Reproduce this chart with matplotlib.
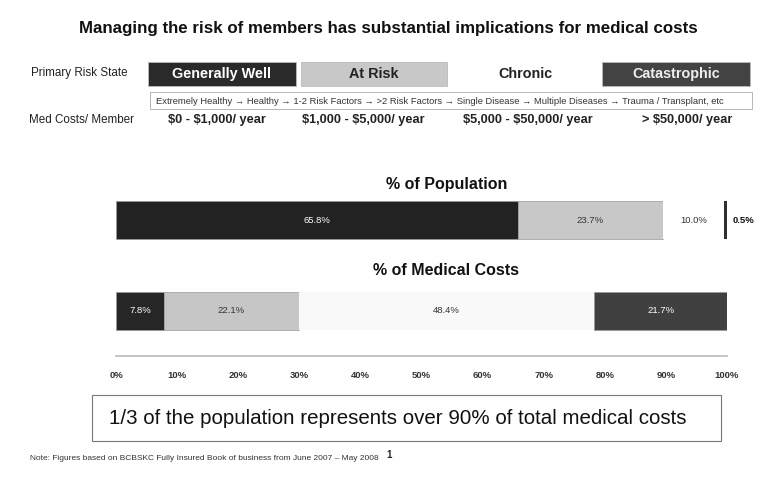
import matplotlib
matplotlib.use('Agg')
from matplotlib import pyplot as plt
from matplotlib.patches import Rectangle

plt.rcParams['font.family'] = ['Liberation Sans', 'DejaVu Sans']
plt.rcParams['text.parse_math'] = False

#region `data`
risk_states = ['Generally Well', 'At Risk', 'Chronic', 'Catastrophic']
med_costs = ['$0 - $1,000/ year', '$1,000 - $5,000/ year', '$5,000 - $50,000/ year', '> $50,000/ year']
progression = ('Extremely Healthy \u2192 Healthy \u2192 1-2 Risk Factors \u2192 >2 Risk Factors \u2192 '
               'Single Disease \u2192 Multiple Diseases \u2192 Trauma / Transplant, etc')
population = [65.8, 23.7, 10.0, 0.5]
medical_costs = [7.8, 22.1, 48.4, 21.7]
row_titles = ['% of Population', '% of Medical Costs']
ticks = list(range(0, 101, 10))
#endregion

#region `style`
seg_colors = ['#262626', '#c6c6c6', '#f9f9f9', '#404040']
text_colors = ['white', '#222222', '#222222', '#eeeeee']
header_colors = ['#2a2a2a', '#c8c8c8', 'white', '#434343']
header_x = [148, 301, 450, 602]
header_w = [148, 146, 150, 148]
cost_x = [217, 363, 528, 687]
#endregion

fig = plt.figure(figsize=(7.69, 4.86), dpi=100)
bg = fig.add_axes([0, 0, 1, 1])
bg.set_xlim(0, 769)
bg.set_ylim(486, 0)
bg.axis('off')

bg.text(388, 29, 'Managing the risk of members has substantial implications for medical costs',
        ha='center', va='center', fontsize=12.2, fontweight='bold', color='#111111')

# header rows
bg.text(128, 73, 'Primary Risk State', ha='right', va='center', fontsize=8.4, color='#222222')
bg.text(134, 120, 'Med Costs/ Member', ha='right', va='center', fontsize=8.4, color='#222222')
for i, name in enumerate(risk_states):
    bg.add_patch(Rectangle((header_x[i], 62), header_w[i], 24, facecolor=header_colors[i],
                           edgecolor='#bbbbbb' if i != 2 else 'none', lw=0.6))
    bg.text(header_x[i] + header_w[i] / 2, 74, name, ha='center', va='center',
            fontsize=10.4, fontweight='bold', color=text_colors[i])
    bg.text(cost_x[i], 120, med_costs[i], ha='center', va='center',
            fontsize=9.2, fontweight='bold', color='#222222')

bg.add_patch(Rectangle((150, 92), 602, 17, facecolor='white', edgecolor='#aaaaaa', lw=0.6))
bg.text(156, 101, progression, ha='left', va='center', fontsize=6.75, color='#333333')

# section titles
bg.text(447, 184, row_titles[0], ha='center', va='center', fontsize=11.5, fontweight='bold', color='#111111')
bg.text(446, 270, row_titles[1], ha='center', va='center', fontsize=11.5, fontweight='bold', color='#111111')

# bars
ax = fig.add_axes([116 / 769, (486 - 356) / 486, (727 - 116) / 769, (356 - 190) / 486])
ax.set_xlim(0, 100)
ax.set_ylim(1.495, -0.33)
ax.patch.set_alpha(0)

pop_colors = ['#222222', '#c8c8c8', 'white', '#2e2e2e']
pop_text = ['white', '#333333', '#333333', '#111111']
left = 0
for i, v in enumerate(population):
    ax.barh(0, v, left=left, height=0.42, color=pop_colors[i],
            edgecolor='#999999' if i < 2 else 'none', lw=0.5)
    if i < 3:
        ax.text(left + v / 2, 0, '%.1f%%' % v, ha='center', va='center',
                fontsize=6.8, color=pop_text[i])
    else:
        ax.text(left + v + 2.7, 0, '%.1f%%' % v, ha='center', va='center',
                fontsize=6.8, fontweight='bold', color=pop_text[i], clip_on=False)
    left += v

cost_text = ['white', '#333333', '#333333', 'white']
left = 0
for i, v in enumerate(medical_costs):
    ax.barh(1, v, left=left, height=0.41, color=seg_colors[i],
            edgecolor='#999999' if i != 2 else 'none', lw=0.5)
    ax.text(left + v / 2, 1, '%.1f%%' % v, ha='center', va='center',
            fontsize=6.8, color=cost_text[i])
    left += v

for s in ['top', 'right', 'left']:
    ax.spines[s].set_visible(False)
ax.spines['bottom'].set_color('#bbbbbb')
ax.spines['bottom'].set_linewidth(1.2)
ax.set_yticks([])
ax.set_xticks(ticks)
ax.set_xticklabels(['%d%%' % t for t in ticks], fontsize=6.8, fontweight='bold', color='#333333')
ax.tick_params(axis='x', length=0, pad=11)

# bottom message
bg.add_patch(Rectangle((92, 395), 629, 46, facecolor='white', edgecolor='#777777', lw=0.8))
bg.text(398, 418, '1/3 of the population represents over 90% of total medical costs',
        ha='center', va='center', fontsize=14.8, color='#111111')

bg.text(30, 458, 'Note: Figures based on BCBSKC Fully Insured Book of business from June 2007 \u2013 May 2008',
        ha='left', va='center', fontsize=6.0, color='#333333')
bg.text(386, 455, '1', ha='left', va='center', fontsize=7, fontweight='bold', color='#222222')

fig.savefig('out.png', dpi=100)
